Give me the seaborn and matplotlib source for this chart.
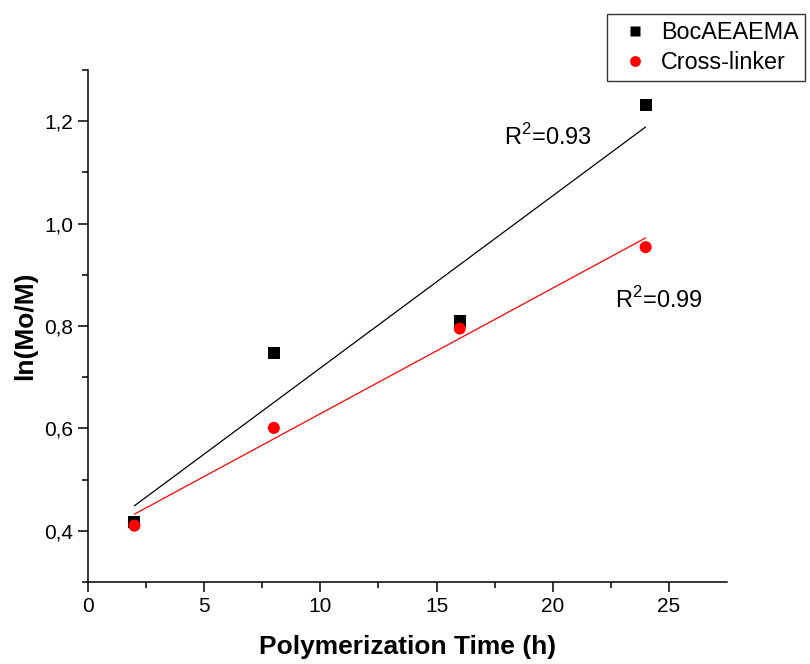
import numpy as np
import pandas as pd
import matplotlib
matplotlib.use("Agg")
import matplotlib.pyplot as plt
import seaborn as sns

# polymerization kinetics data
time_h = [2, 8, 16, 24]
boc_lnM = [0.418, 0.748, 0.810, 1.232]
xl_lnM = [0.410, 0.601, 0.795, 0.954]
series_names = ["BocAEAEMA", "Cross-linker"]
r2_labels = ["R$^2$=0.93", "R$^2$=0.99"]
r2_pos = [(17.9, 1.17), (22.7, 0.85)]

df = pd.DataFrame({
    "time": time_h * 2,
    "lnM": boc_lnM + xl_lnM,
    "series": [series_names[0]] * 4 + [series_names[1]] * 4,
})

sns.set_style("ticks")
plt.rcParams["font.family"] = ["Liberation Sans", "DejaVu Sans"]
plt.rcParams["mathtext.fontset"] = "custom"
plt.rcParams["mathtext.rm"] = "Liberation Sans"
plt.rcParams["text.color"] = "black"
plt.rcParams["axes.labelcolor"] = "black"
plt.rcParams["xtick.color"] = "black"
plt.rcParams["ytick.color"] = "black"
plt.rcParams["axes.edgecolor"] = "black"

fig = plt.figure(figsize=(8.1, 6.64), dpi=100)
ax = fig.add_axes([0.1086, 0.1235, 0.7889, 0.7711])

colors = {series_names[0]: "black", series_names[1]: "red"}

# linear fits
for name, ys in zip(series_names, [boc_lnM, xl_lnM]):
    k, b = np.polyfit(time_h, ys, 1)
    xs = np.array([min(time_h), max(time_h)])
    ax.plot(xs, k * xs + b, color=colors[name], lw=0.9, zorder=1)

sns.scatterplot(data=df, x="time", y="lnM", hue="series", style="series",
                markers={series_names[0]: "s", series_names[1]: "o"},
                palette=colors, s=75, edgecolor="none", ax=ax, zorder=3)

for txt, (tx, ty) in zip(r2_labels, r2_pos):
    ax.text(tx, ty, txt, fontsize=17, va="center", ha="left")

ax.set_xlim(0, 27.5)
ax.set_ylim(0.3, 1.3)
ax.set_xticks([0, 5, 10, 15, 20, 25])
ax.set_xticks(np.arange(2.5, 27.5, 5), minor=True)
ax.set_yticks([0.4, 0.6, 0.8, 1.0, 1.2])
ax.set_yticks([0.3, 0.5, 0.7, 0.9, 1.1, 1.3], minor=True)
ax.set_yticklabels(["0,4", "0,6", "0,8", "1,0", "1,2"])
ax.tick_params(which="major", direction="out", length=7, width=1.1, labelsize=15)
ax.tick_params(which="minor", direction="out", length=4, width=1.1)
for s in ["left", "bottom"]:
    ax.spines[s].set_linewidth(1.1)
sns.despine(ax=ax)

ax.set_xlabel("Polymerization Time (h)", fontsize=19, fontweight="bold", labelpad=14)
ax.set_ylabel("ln(Mo/M)", fontsize=19, fontweight="bold", labelpad=5)

leg = ax.legend(loc="upper left", bbox_to_anchor=(607 / 810, 1 - 14 / 664),
                bbox_transform=fig.transFigure, fontsize=16.8, frameon=True,
                fancybox=False, edgecolor="black", borderaxespad=0,
                handletextpad=0.2, handlelength=1.8, borderpad=0.3,
                labelspacing=0.3, markerscale=0.9)
leg.get_frame().set_linewidth(1.0)

fig.savefig("out.png", dpi=100)
